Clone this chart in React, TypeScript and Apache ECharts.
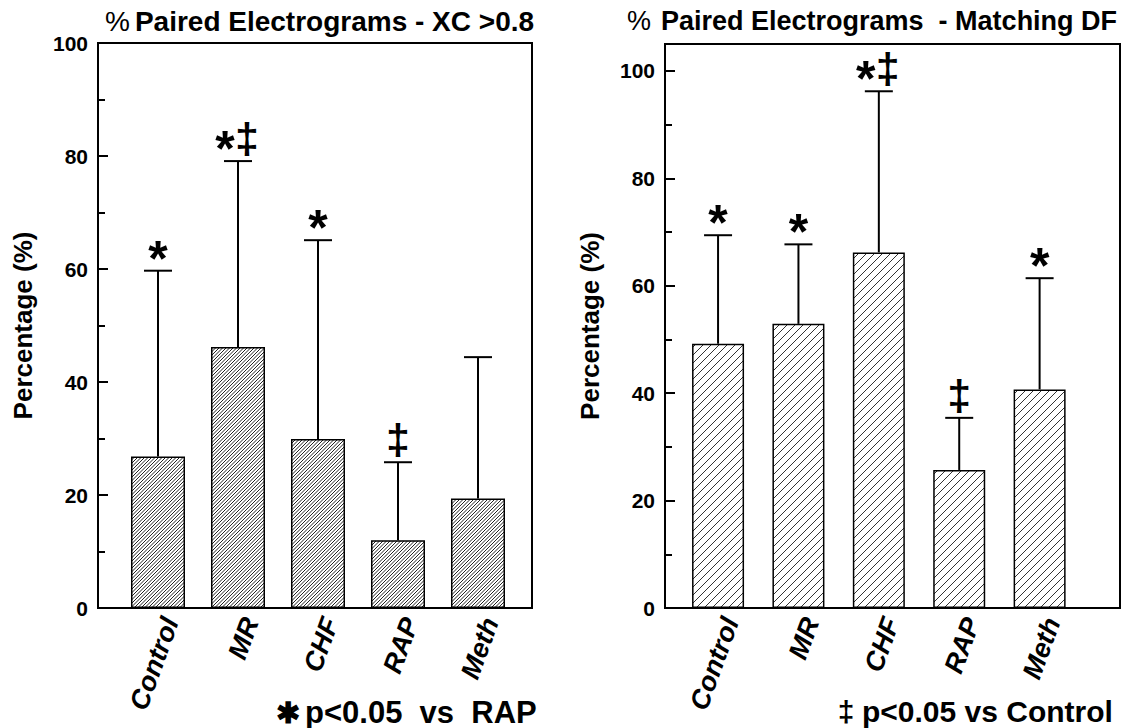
import React, { useEffect, useRef } from 'react';
import * as echarts from 'echarts';

const categories = ['Control', 'MR', 'CHF', 'RAP', 'Meth'];
const catPos = [1, 2, 3, 4, 5];
const xcMeans = [26.8, 46.2, 29.9, 12.0, 19.4];
const xcUpper = [59.7, 79.1, 65.1, 25.8, 44.4];
const xcMarks = ['*', '*‡', '*', '‡', ''];
const dfMeans = [49.2, 52.9, 66.2, 25.7, 40.7];
const dfUpper = [69.4, 67.7, 96.2, 35.4, 61.4];
const dfMarks = ['*', '*', '*‡', '‡', '*'];
const yTicks = [0, 20, 40, 60, 80, 100];

const FONT = '"Liberation Sans", Arial, sans-serif';

function hatch(tile: number, spacing: number, color: string, lw: number) {
  const c = document.createElement('canvas');
  c.width = tile;
  c.height = tile;
  const ctx = c.getContext('2d')!;
  ctx.fillStyle = '#ffffff';
  ctx.fillRect(0, 0, tile, tile);
  ctx.strokeStyle = color;
  ctx.lineWidth = lw;
  for (let k = 0; k <= 2 * tile + 0.01; k += spacing) {
    ctx.beginPath();
    ctx.moveTo(k + 2, -2);
    ctx.lineTo(k - tile - 2, tile + 2);
    ctx.stroke();
  }
  return c;
}

function errorSeries(xi: number, means: number[], upper: number[], marks: string[]) {
  return {
    type: 'custom',
    xAxisIndex: xi,
    yAxisIndex: xi,
    z: 5,
    data: catPos.map((p, i) => [p, means[i], upper[i]]),
    renderItem: (params: any, api: any) => {
      const x = api.value(0);
      const base = api.coord([x, api.value(1)]);
      const up = api.coord([x, api.value(2)]);
      const children: any[] = [
        { type: 'line', shape: { x1: base[0], y1: base[1], x2: up[0], y2: up[1] }, style: { stroke: '#000', lineWidth: 2 } },
        { type: 'line', shape: { x1: up[0] - 14, y1: up[1], x2: up[0] + 14, y2: up[1] }, style: { stroke: '#000', lineWidth: 2 } },
      ];
      const m = marks[params.dataIndex];
      const cy = up[1] - 22;
      const star = (cx: number) => ({
        type: 'text',
        style: { text: '*', x: cx, y: cy + 10, align: 'center', verticalAlign: 'middle', font: `bold 50px ${FONT}`, fill: '#000' },
      });
      const dag = (cx: number) => ({
        type: 'text',
        style: { text: '‡', x: cx, y: cy - 1, align: 'center', verticalAlign: 'middle', font: `bold 43px ${FONT}`, fill: '#000' },
      });
      if (m === '*') children.push(star(up[0]));
      else if (m === '‡') children.push(dag(up[0]));
      else if (m === '*‡') {
        children.push(star(up[0] - 13));
        children.push(dag(up[0] + 9));
      }
      return { type: 'group', children };
    },
  };
}

export default function App() {
  const ref = useRef<HTMLDivElement>(null);
  useEffect(() => {
    const chart = echarts.init(ref.current!, null, { renderer: 'svg' });
    const denseHatch = hatch(7, 3.5, '#222', 1);
    const wideHatch = hatch(8, 8, '#333', 1);

    const yAxisBase = (gi: number, max: number) => ({
      type: 'value',
      gridIndex: gi,
      min: 0,
      max,
      interval: 20,
      name: 'Percentage (%)',
      nameLocation: 'middle',
      nameGap: 62,
      nameTextStyle: { fontFamily: FONT, fontWeight: 'bold', fontSize: 26, color: '#000' },
      axisLine: { show: true, lineStyle: { color: '#000', width: 2 } },
      axisTick: { show: true, inside: true, length: 10, lineStyle: { color: '#000', width: 2 } },
      minorTick: { show: true, splitNumber: 2, length: 7, lineStyle: { color: '#000', width: 2 } },
      axisLabel: {
        fontFamily: FONT,
        fontWeight: 'bold',
        fontSize: 21,
        color: '#000',
        margin: 10,
        formatter: (v: number) => (yTicks.indexOf(v) >= 0 ? String(v) : ''),
      },
      splitLine: { show: false },
    });

    const xAxisBase = (gi: number, min: number, max: number) => ({
      type: 'value',
      gridIndex: gi,
      min,
      max,
      axisLine: { show: true, lineStyle: { color: '#000', width: 2 } },
      axisTick: { show: false },
      splitLine: { show: false },
      axisLabel: {
        customValues: catPos,
        formatter: (v: number) => categories[Math.round(v) - 1] ?? '',
        rotate: 70,
        verticalAlign: 'top',
        fontFamily: FONT,
        fontWeight: 'bold',
        fontStyle: 'italic',
        fontSize: 27,
        color: '#000',
        margin: 6,
      },
    });

    const barSeries = (xi: number, means: number[], pattern: any, width: number) => ({
      type: 'bar',
      xAxisIndex: xi,
      yAxisIndex: xi,
      barWidth: width,
      data: catPos.map((p, i) => [p, means[i]]),
      itemStyle: {
        color: { image: pattern, repeat: 'repeat' },
        borderColor: '#000',
        borderWidth: 1.5,
      },
    });

    const rich = (fs: number) => ({
      p: { fontFamily: FONT, fontSize: fs, fontWeight: 'normal', color: '#000' },
      b: { fontFamily: FONT, fontSize: fs, fontWeight: 'bold', color: '#000' },
    });

    chart.setOption({
      animation: false,
      backgroundColor: '#fff',
      title: [
        { text: '{p|%} {b|Paired Electrograms - XC >0.8}', left: 100, top: 2, textStyle: { rich: rich(28) } },
        { text: '{p|%}  {b|Paired Electrograms  - Matching DF}', left: 622, top: 2, textStyle: { rich: rich(27) } },
      ],
      graphic: [
        { type: 'text', style: { text: '✱', x: 288, y: 713, align: 'center', verticalAlign: 'middle', font: `bold 29px ${FONT}`, fill: '#000' } },
        { type: 'text', style: { text: 'p<0.05  vs  RAP', x: 305, y: 712, align: 'left', verticalAlign: 'middle', font: `bold 31px ${FONT}`, fill: '#000' } },
        { type: 'text', style: { text: '‡', x: 846, y: 711, align: 'center', verticalAlign: 'middle', font: `bold 30px ${FONT}`, fill: '#000' } },
        { type: 'text', style: { text: 'p<0.05 vs Control', x: 862, y: 711, align: 'left', verticalAlign: 'middle', font: `bold 30px ${FONT}`, fill: '#000' } },
      ],
      grid: [
        { left: 98, top: 43, width: 434, height: 565, show: true, borderColor: '#000', borderWidth: 2, backgroundColor: 'transparent' },
        { left: 665, top: 44, width: 455, height: 564, show: true, borderColor: '#000', borderWidth: 2, backgroundColor: 'transparent' },
      ],
      xAxis: [xAxisBase(0, 0.25, 5.675), xAxisBase(1, 0.34, 6.0)],
      yAxis: [yAxisBase(0, 100), yAxisBase(1, 105)],
      series: [
        barSeries(0, xcMeans, denseHatch, 54),
        barSeries(1, dfMeans, wideHatch, 52),
        errorSeries(0, xcMeans, xcUpper, xcMarks),
        errorSeries(1, dfMeans, dfUpper, dfMarks),
      ],
    });
    return () => chart.dispose();
  }, []);
  return <div ref={ref} style={{ position: 'fixed', left: 0, top: 0, width: 1134, height: 728 }} />;
}
